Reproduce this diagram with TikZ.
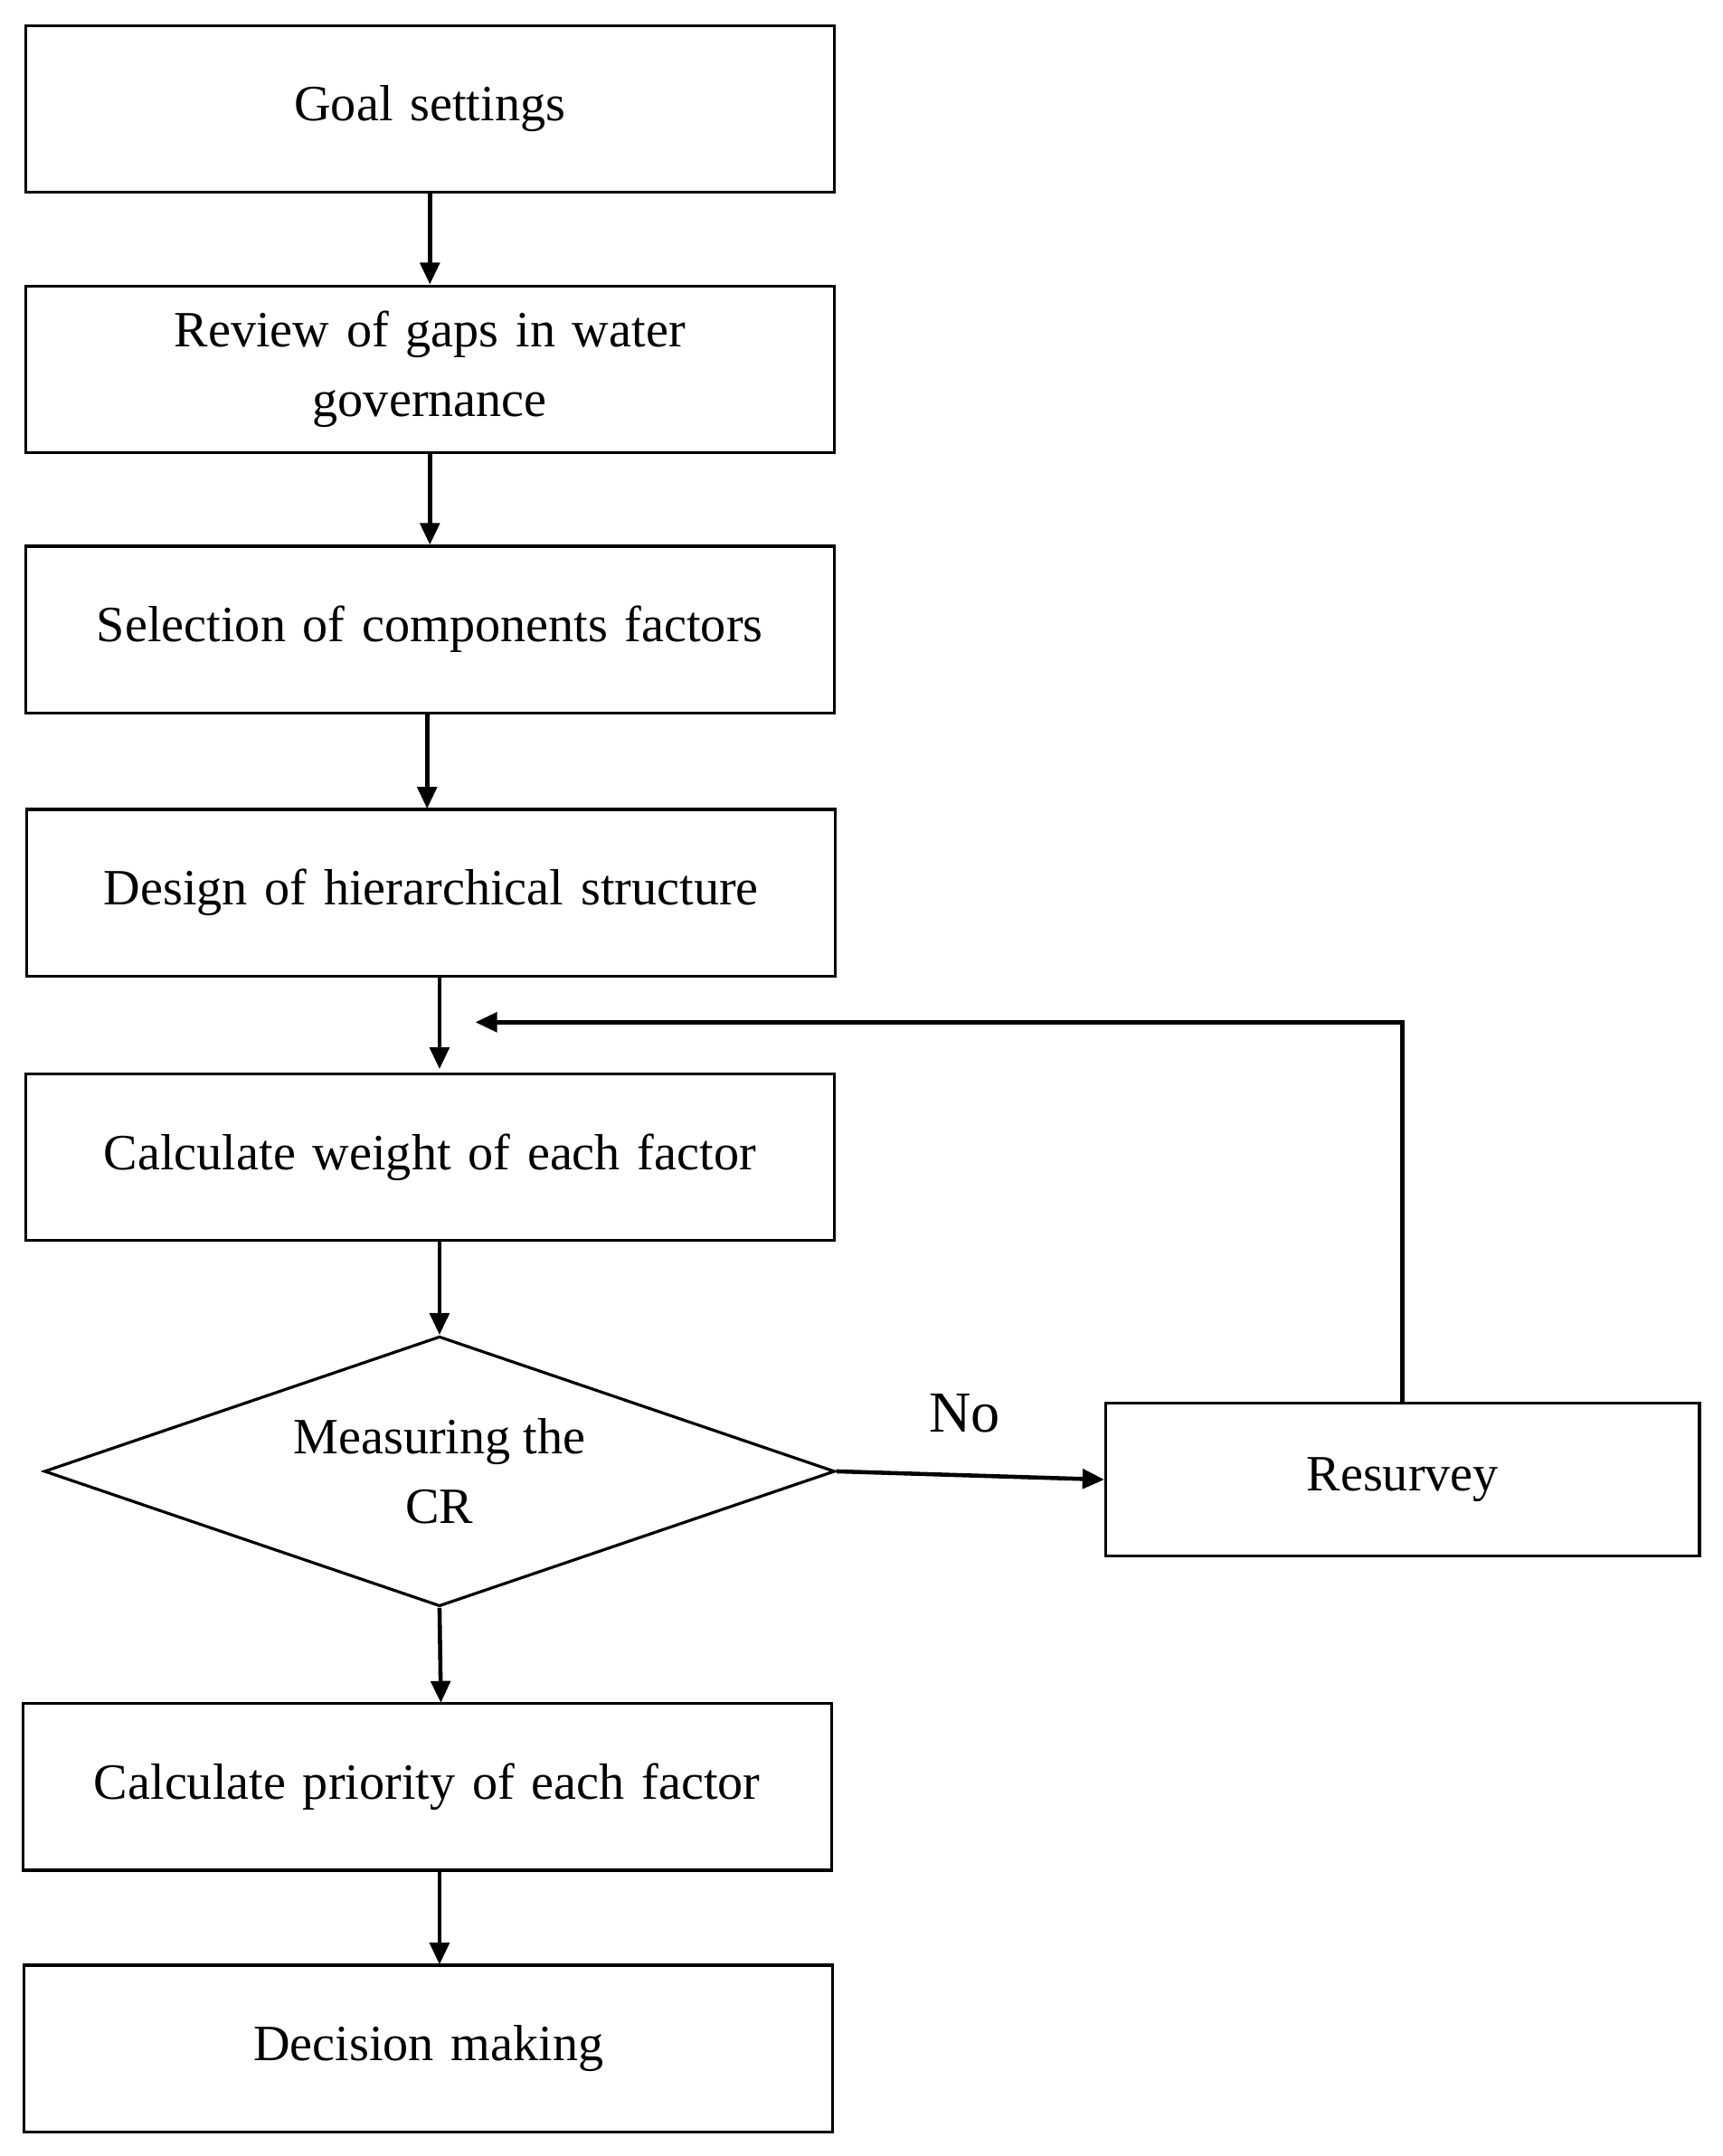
\documentclass[tikz,border=0pt]{standalone}
\usepackage{fontspec}
\setmainfont{Liberation Serif}
\usetikzlibrary{shapes.geometric, arrows.meta, calc}
\begin{document}
\begin{tikzpicture}[x=0.02cm, y=-0.02cm,
    box/.style={draw, line width=1.2pt, minimum width=11.74cm, minimum height=2.42cm,
        align=center, text width=10.6cm, font=\fontsize{21}{29}\selectfont, inner sep=0pt},
    dec/.style={draw, line width=1.2pt, diamond, aspect=2.93, minimum width=11.48cm,
        minimum height=3.92cm, align=center, font=\fontsize{21}{29}\selectfont, inner sep=0pt},
    arr/.style={-{Triangle[length=9pt,width=8pt]}, line width=1.7pt}]
  \useasboundingbox (0,0) rectangle (1250,1565);
  \node[box] (goal) at (312,79) {Goal settings};
  \node[box] (gaps) at (312,268) {Review of gaps in water\\governance};
  \node[box] (sel) at (312,457) {Selection of components factors};
  \node[box] (des) at (313,648) {Design of hierarchical structure};
  \node[box] (wt) at (312,840) {Calculate weight of each factor};
  \node[dec] (cr) at (319,1068) {Measuring the\\CR};
  \node[box, minimum width=8.62cm, minimum height=2.22cm, text width=8cm] (res) at (1018,1074) {Resurvey};
  \node[box] (pri) at (310,1297) {Calculate priority of each factor};
  \node[box] (dm) at (311,1487) {Decision making};
  \node[font=\fontsize{24}{29}\selectfont] (no) at (700,1026) {No};
  \coordinate (loop) at (1018,742);
  \coordinate (loopend) at (345,742);
  \draw[arr] (goal.south) -- (gaps.north);
  \draw[arr] (gaps.south) -- (sel.north);
  \draw[arr] (310,518) -- (310,587);
  \draw[arr] (319,709) -- (319,776);
  \draw[arr] (319,900) -- (cr.north);
  \draw[arr] (cr.south) -- (320,1236);
  \draw[arr] (319,1357) -- (319,1426);
  \draw[arr] (cr.east) -- (res.west);
  \draw[arr] (res.north) -- (loop) -- (loopend);
\end{tikzpicture}
\end{document}
